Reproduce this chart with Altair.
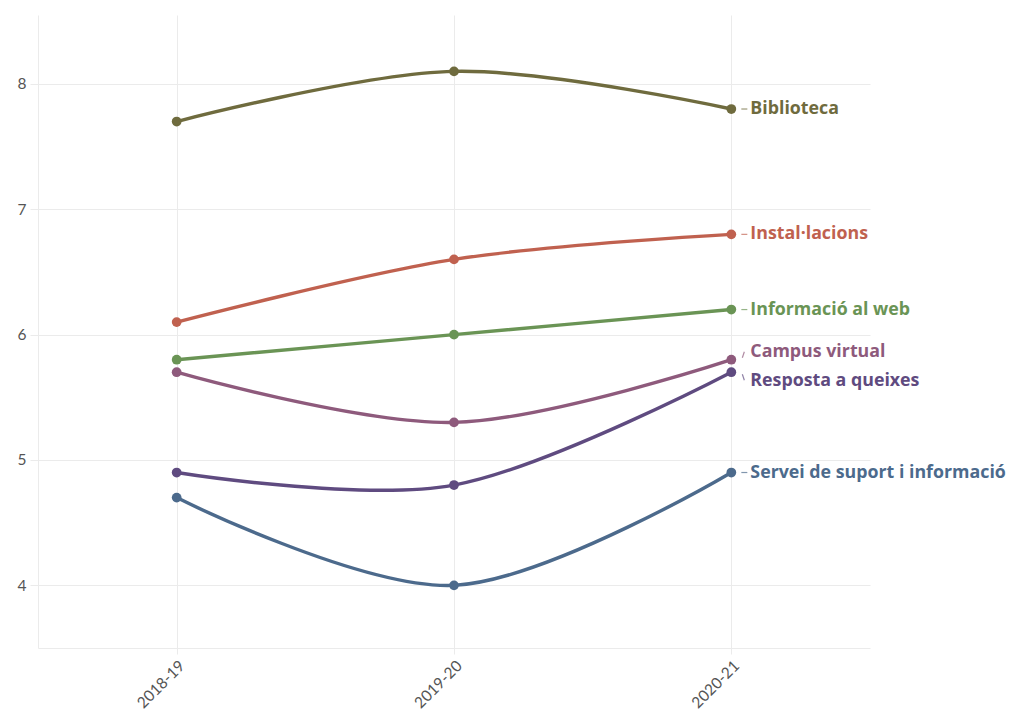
import altair as alt
import pandas as pd

years = ["2018-19", "2019-20", "2020-21"]
series = [
    "Biblioteca",
    "Instal·lacions",
    "Informació al web",
    "Campus virtual",
    "Resposta a queixes",
    "Servei de suport i informació",
]
biblioteca = [7.7, 8.1, 7.8]
instal = [6.1, 6.6, 6.8]
web = [5.8, 6.0, 6.2]
campus = [5.7, 5.3, 5.8]
queixes = [4.9, 4.8, 5.7]
servei = [4.7, 4.0, 4.9]
values = [biblioteca, instal, web, campus, queixes, servei]
colors = ["#6f6b3e", "#c0614f", "#6a9455", "#8e5a7c", "#5f4b80", "#4c6a8c"]

rows = []
for name, vals in zip(series, values):
    for yr, v in zip(years, vals):
        rows.append({"year": yr, "series": name, "value": v})
df = pd.DataFrame(rows)

color = alt.Color("series:N", scale=alt.Scale(domain=series, range=colors), legend=None)
x = alt.X(
    "year:N",
    sort=years,
    scale=alt.Scale(type="point", padding=0.5),
    axis=alt.Axis(
        title=None, labelAngle=-45, labelFont="Lato", labelFontSize=15.5,
        labelColor="#555555", grid=True, gridColor="#ebebeb", domainColor="#ebebeb",
        tickColor="#ebebeb", tickSize=6, labelPadding=4,
    ),
)
y = alt.Y(
    "value:Q",
    scale=alt.Scale(domain=[3.5, 8.55], nice=False, zero=False),
    axis=alt.Axis(
        title=None, values=[4, 5, 6, 7, 8], format="d", labelFont="Lato", labelFontSize=15.5,
        labelColor="#555555", grid=True, gridColor="#ebebeb", domainColor="#ebebeb",
        tickColor="#ebebeb", tickSize=8, labelPadding=4,
    ),
)

base = alt.Chart(df)
lines = base.mark_line(interpolate="cardinal", strokeWidth=3.4).encode(x=x, y=y, color=color)
points = base.mark_circle(size=95, opacity=1).encode(x=x, y=y, color=color)

last = base.transform_filter(alt.datum.year == years[-1])
up_names = ["Campus virtual"]
down_names = ["Resposta a queixes"]
normal = last.transform_filter(
    ~alt.FieldOneOfPredicate(field="series", oneOf=up_names + down_names)
)
up = last.transform_filter(alt.FieldOneOfPredicate(field="series", oneOf=up_names))
down = last.transform_filter(alt.FieldOneOfPredicate(field="series", oneOf=down_names))

tkw = dict(align="left", baseline="middle", dx=19, font="Open Sans", fontSize=17.8, fontWeight="bold")
enc = dict(x=alt.X("year:N", sort=years), y="value:Q", text="series:N", color=color)
lab_n = normal.mark_text(**tkw).encode(**enc)
lab_u = up.mark_text(dy=-8, **tkw).encode(**enc)
lab_d = down.mark_text(dy=9, **tkw).encode(**enc)

renc = dict(x=alt.X("year:N", sort=years), x2="year:N", y="value:Q", y2="value:Q", color=color)
lead_n = normal.mark_rule(xOffset=10, x2Offset=16, strokeWidth=1.2, opacity=0.7).encode(**renc)
lead_u = up.mark_rule(xOffset=11, x2Offset=13, yOffset=-2, y2Offset=-8, strokeWidth=1.2, opacity=0.7).encode(**renc)
lead_d = down.mark_rule(xOffset=11, x2Offset=13, yOffset=2, y2Offset=8, strokeWidth=1.2, opacity=0.7).encode(**renc)

chart = (
    alt.layer(lines, points, lead_n, lead_u, lead_d, lab_n, lab_u, lab_d)
    .properties(
        width=832, height=633,
        background="white",
        autosize=alt.AutoSizeParams(type="none"),
        padding={"left": 30, "top": 7, "right": 141, "bottom": 68},
    )
    .configure_view(stroke="transparent", strokeWidth=0)
)

chart.save("out.html", embed_options={"renderer": "svg", "actions": False})
